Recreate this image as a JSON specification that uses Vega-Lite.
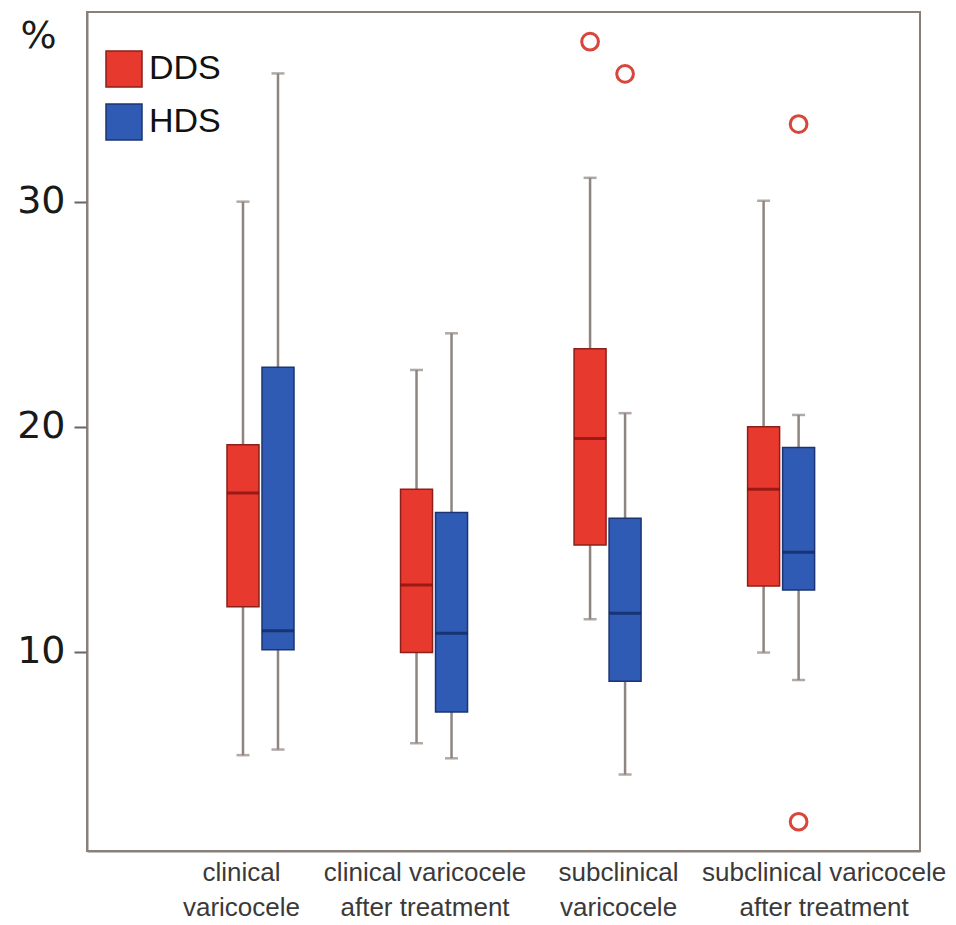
{
  "$schema": "https://vega.github.io/schema/vega-lite/v6.json",
  "width": 833,
  "height": 839,
  "autosize": "none",
  "padding": {"left": 87, "top": 12, "right": 36, "bottom": 74},
  "background": "white",
  "config": {
    "view": {"stroke": "#8a807b", "strokeWidth": 2},
    "font": "Liberation Sans"
  },
  "datasets": {
    "boxes": [
      {"group": "clinical varicocele", "series": "DDS", "lo": 5.4, "q1": 12.0, "med": 17.05, "q3": 19.2, "hi": 30.0},
      {"group": "clinical varicocele", "series": "HDS", "lo": 5.65, "q1": 10.08, "med": 10.93, "q3": 22.64, "hi": 35.7},
      {"group": "clinical varicocele after treatment", "series": "DDS", "lo": 5.93, "q1": 9.96, "med": 12.96, "q3": 17.22, "hi": 22.52},
      {"group": "clinical varicocele after treatment", "series": "HDS", "lo": 5.26, "q1": 7.32, "med": 10.82, "q3": 16.18, "hi": 24.15},
      {"group": "subclinical varicocele", "series": "DDS", "lo": 11.44, "q1": 14.74, "med": 19.47, "q3": 23.46, "hi": 31.06},
      {"group": "subclinical varicocele", "series": "HDS", "lo": 4.54, "q1": 8.68, "med": 11.71, "q3": 15.93, "hi": 20.6},
      {"group": "subclinical varicocele after treatment", "series": "DDS", "lo": 9.96, "q1": 12.92, "med": 17.22, "q3": 20.0, "hi": 30.04},
      {"group": "subclinical varicocele after treatment", "series": "HDS", "lo": 8.74, "q1": 12.74, "med": 14.42, "q3": 19.07, "hi": 20.52}
    ],
    "outliers": [
      {"group": "subclinical varicocele", "series": "DDS", "value": 37.11},
      {"group": "subclinical varicocele", "series": "HDS", "value": 35.68},
      {"group": "subclinical varicocele after treatment", "series": "HDS", "value": 33.45},
      {"group": "subclinical varicocele after treatment", "series": "HDS", "value": 2.44}
    ]
  },
  "encoding": {
    "x": {
      "field": "group",
      "type": "nominal",
      "scale": {
        "type": "band",
        "domain": ["clinical varicocele", "clinical varicocele after treatment", "subclinical varicocele", "subclinical varicocele after treatment"],
        "paddingInner": 0.6139,
        "paddingOuter": 0.707,
        "align": 0.5705
      },
      "axis": {
        "title": null,
        "ticks": false,
        "domainColor": "#8a807b",
        "domainWidth": 2,
        "labelAngle": 0,
        "labelLimit": 0,
        "labelFont": "Liberation Sans",
        "labelFontSize": 26,
        "labelColor": "#3a3a3a",
        "labelLineHeight": 35,
        "labelPadding": 8,
        "labelOffset": {"expr": "datum.value == 'clinical varicocele' ? -19 : datum.value == 'clinical varicocele after treatment' ? -9 : datum.value == 'subclinical varicocele' ? 11 : 43"},
        "labelExpr": "datum.value == 'clinical varicocele' ? ['clinical', 'varicocele'] : datum.value == 'clinical varicocele after treatment' ? ['clinical varicocele', 'after treatment'] : datum.value == 'subclinical varicocele' ? ['subclinical', 'varicocele'] : ['subclinical varicocele', 'after treatment']"
      }
    },
    "xOffset": {
      "field": "series",
      "type": "nominal",
      "scale": {"domain": ["DDS", "HDS"], "paddingInner": 0.0857, "paddingOuter": 0}
    }
  },
  "layer": [
    {
      "data": {"name": "boxes"},
      "mark": {"type": "rule", "color": "#8f8580", "strokeWidth": 2.5},
      "encoding": {
        "y": {
          "field": "lo",
          "type": "quantitative",
          "scale": {"domain": [1.14, 38.43], "nice": false, "zero": false},
          "axis": {
            "values": [10, 20, 30],
            "grid": false,
            "domainColor": "#8a807b",
            "domainWidth": 2,
            "tickColor": "#6b6360",
            "tickWidth": 2,
            "tickSize": 13,
            "labelFont": "DejaVu Sans",
            "labelFontSize": 38,
            "labelColor": "#1a1a1a",
            "labelPadding": 9,
            "title": "%",
            "titleAngle": 0,
            "titleFont": "DejaVu Sans",
            "titleFontSize": 38,
            "titleFontWeight": "normal",
            "titleColor": "#1a1a1a",
            "titleX": -49,
            "titleY": 35,
            "titleAlign": "center",
            "titleBaseline": "alphabetic"
          }
        },
        "y2": {"field": "hi"}
      }
    },
    {
      "data": {"name": "boxes"},
      "mark": {"type": "tick", "color": "#8f8580", "size": 13, "thickness": 2.5, "orient": "horizontal"},
      "encoding": {"y": {"field": "lo", "type": "quantitative"}}
    },
    {
      "data": {"name": "boxes"},
      "mark": {"type": "tick", "color": "#8f8580", "size": 13, "thickness": 2.5, "orient": "horizontal"},
      "encoding": {"y": {"field": "hi", "type": "quantitative"}}
    },
    {
      "data": {"name": "boxes"},
      "mark": {"type": "bar", "strokeWidth": 1.5},
      "encoding": {
        "y": {"field": "q1", "type": "quantitative"},
        "y2": {"field": "q3"},
        "fill": {
          "field": "series",
          "type": "nominal",
          "scale": {"domain": ["DDS", "HDS"], "range": ["#e8392f", "#2f5bb4"]},
          "legend": {
            "title": null,
            "orient": "none",
            "legendX": 18,
            "legendY": 38,
            "padding": 0,
            "symbolType": "square",
            "symbolSize": 1296,
            "symbolStrokeColor": "#3a2a2a",
            "symbolStrokeWidth": 1.5,
            "labelFont": "Liberation Sans",
            "labelFontSize": 34,
            "labelColor": "#111111",
            "labelOffset": 6,
            "rowPadding": 11
          }
        },
        "stroke": {
          "field": "series",
          "type": "nominal",
          "scale": {"domain": ["DDS", "HDS"], "range": ["#8c1f1a", "#1d3472"]},
          "legend": null
        }
      }
    },
    {
      "data": {"name": "boxes"},
      "mark": {"type": "tick", "size": 32, "thickness": 3, "orient": "horizontal"},
      "encoding": {
        "y": {"field": "med", "type": "quantitative"},
        "color": {
          "field": "series",
          "type": "nominal",
          "scale": {"domain": ["DDS", "HDS"], "range": ["#7a0c0c", "#0e2358"]},
          "legend": null
        }
      }
    },
    {
      "data": {"name": "outliers"},
      "mark": {"type": "point", "shape": "circle", "filled": false, "stroke": "#d8453b", "strokeWidth": 3, "size": 280, "opacity": 1},
      "encoding": {"y": {"field": "value", "type": "quantitative"}}
    }
  ]
}
